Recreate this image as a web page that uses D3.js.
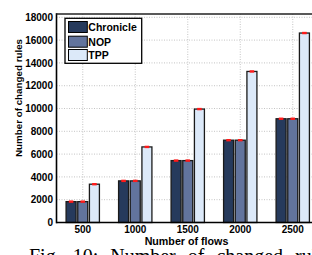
<!DOCTYPE html>
<html><head><meta charset="utf-8">
<script src="https://cdn.jsdelivr.net/npm/d3@7"></script>
<style>
html,body{margin:0;padding:0;background:#fff;overflow:hidden;}
svg{display:block;}
</style></head>
<body>
<svg id="chart" width="312" height="255"></svg>
<script>
const categories = ["500", "1000", "1500", "2000", "2500"];
const seriesNames = ["Chronicle", "NOP", "TPP"];
const chronicle = [1830, 3650, 5430, 7220, 9100];
const nop = [1830, 3650, 5430, 7220, 9100];
const tpp = [3360, 6630, 9950, 13250, 16620];
const yTicks = [0, 2000, 4000, 6000, 8000, 10000, 12000, 14000, 16000, 18000];
const colors = ["#263a5c", "#62749d", "#dce9f9"];
const seriesValues = [chronicle, nop, tpp];

const svg = d3.select("#chart");
const pLeft = 56.5, pRight = 319, pTop = 14, pBottom = 222.5;

const x = d3.scaleBand().domain(categories).range([pLeft, pRight]).padding(0);
const gw = 35;
const x1 = d3.scaleBand().domain(seriesNames)
  .range([x.bandwidth()/2 - gw/2, x.bandwidth()/2 + gw/2])
  .paddingInner(0.143).paddingOuter(0.0715);
const y = d3.scaleLinear().domain([0, 18290]).range([pBottom, pTop]);

// grid
const grid = svg.append("g").attr("stroke", "#b5b5b5").attr("stroke-width", 0.8).attr("stroke-dasharray", "1,1.5");
grid.selectAll("line.h").data(yTicks.filter(d => d > 0)).join("line")
  .attr("x1", pLeft).attr("x2", pRight).attr("y1", d => y(d)).attr("y2", d => y(d));
grid.selectAll("line.v").data(categories).join("line")
  .attr("x1", d => x(d) + x.bandwidth()/2).attr("x2", d => x(d) + x.bandwidth()/2)
  .attr("y1", pTop).attr("y2", pBottom);

// bars
const groups = svg.append("g").selectAll("g").data(categories).join("g")
  .attr("transform", d => `translate(${x(d)},0)`);
const rows = (c, i) => seriesNames.map((s, j) => ({s, j, v: seriesValues[j][i]}));
groups.selectAll("rect.bar").data(rows).join("rect")
  .attr("class", "bar")
  .attr("x", d => x1(d.s)).attr("width", x1.bandwidth())
  .attr("y", d => y(d.v)).attr("height", d => y(0) - y(d.v))
  .attr("fill", d => colors[d.j]).attr("stroke", "#1a1a1a").attr("stroke-width", 1.3);
groups.selectAll("rect.err").data(rows).join("rect")
  .attr("class", "err")
  .attr("x", d => x1(d.s) + x1.bandwidth()/2 - 2.3).attr("width", 4.6)
  .attr("y", d => y(d.v) - 1.2).attr("height", 2.4)
  .attr("fill", "#ff1a1a");

// frame
svg.append("line").attr("x1", pLeft).attr("x2", pLeft).attr("y1", pTop - 0.8).attr("y2", pBottom + 0.8)
  .attr("stroke", "#000").attr("stroke-width", 1.6);
svg.append("line").attr("x1", pLeft).attr("x2", pRight).attr("y1", pBottom).attr("y2", pBottom)
  .attr("stroke", "#000").attr("stroke-width", 1.6);
svg.append("line").attr("x1", pLeft).attr("x2", pRight).attr("y1", pTop).attr("y2", pTop)
  .attr("stroke", "#222").attr("stroke-width", 1.6);

// axes
const font = "Liberation Sans, Arial, sans-serif";
const yAxis = svg.append("g").attr("transform", `translate(${pLeft},0)`)
  .call(d3.axisLeft(y).tickValues(yTicks).tickSize(0).tickPadding(3.5).tickFormat(d3.format("d")));
yAxis.select(".domain").remove();
yAxis.selectAll("text").attr("font-family", font).attr("font-weight", "bold").attr("font-size", "10px").attr("fill", "#000");

const xAxis = svg.append("g").attr("transform", `translate(0,${pBottom})`)
  .call(d3.axisBottom(x).tickSize(0).tickPadding(3));
xAxis.select(".domain").remove();
xAxis.selectAll("text").attr("font-family", font).attr("font-weight", "bold").attr("font-size", "10px").attr("fill", "#000");

svg.append("text").attr("x", 186.5).attr("y", 245).attr("text-anchor", "middle")
  .attr("font-family", font).attr("font-weight", "bold").attr("font-size", "10.7px").text("Number of flows");
svg.append("text").attr("transform", "translate(21.5,98) rotate(-90)").attr("text-anchor", "middle")
  .attr("font-family", font).attr("font-weight", "bold").attr("font-size", "9.8px").text("Number of changed rules");

// legend
const lg = svg.append("g");
lg.append("rect").attr("x", 65).attr("y", 18.3).attr("width", 76.7).attr("height", 45)
  .attr("fill", "#fff").attr("stroke", "#000").attr("stroke-width", 1.3);
const ly = [21.5, 36.2, 49.5];
seriesNames.forEach((s, i) => {
  lg.append("rect").attr("x", 68.5).attr("y", ly[i]).attr("width", 18.8).attr("height", 11)
    .attr("fill", colors[i]).attr("stroke", "#000").attr("stroke-width", 1);
  lg.append("text").attr("x", 88.3).attr("y", ly[i] + 9.8)
    .attr("font-family", font).attr("font-weight", "bold").attr("font-size", "10.5px").text(s);
});

// caption (cut off at bottom)
svg.append("text").attr("x", 29).attr("y", 263).attr("font-family", "Liberation Serif, Times New Roman, serif")
  .attr("font-size", "20px").attr("word-spacing", "7px").text("Fig. 10: Number of changed rules");
</script>
</body></html>
